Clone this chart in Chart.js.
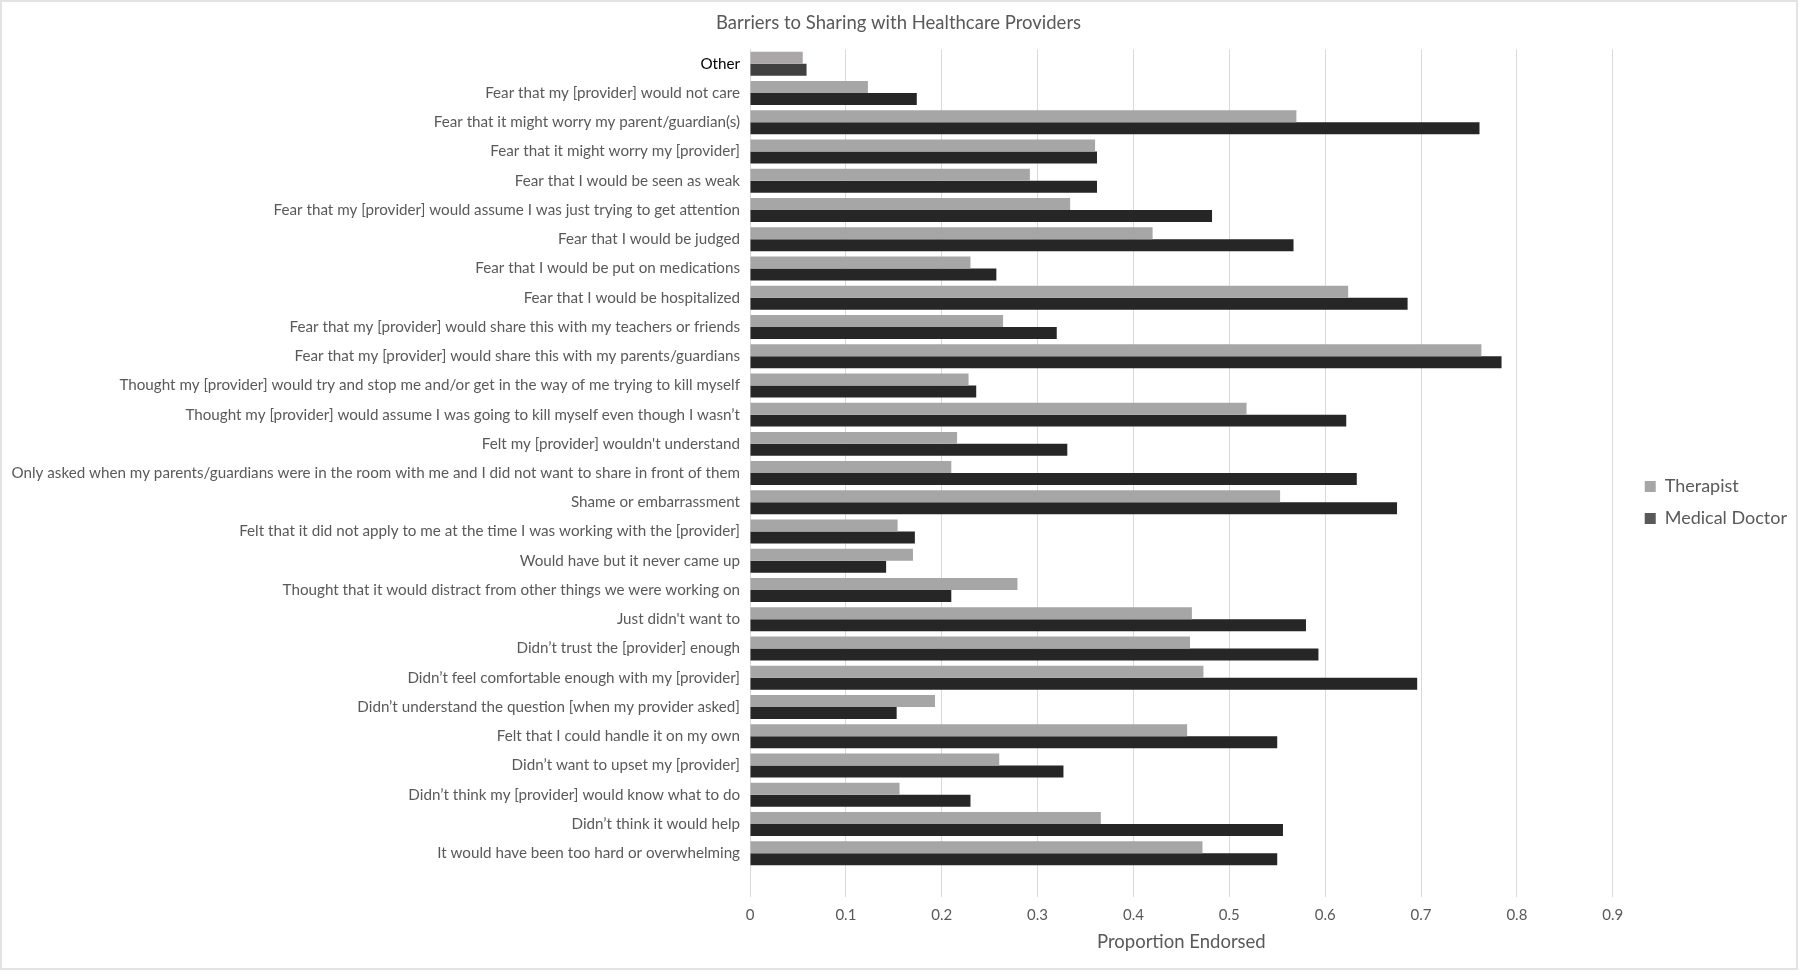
<!DOCTYPE html>
<html>
<head>
<meta charset="utf-8">
<title>Barriers to Sharing with Healthcare Providers</title>
<script src="https://cdn.jsdelivr.net/npm/chart.js@4.4.1/dist/chart.umd.min.js"></script>
<style>
    html, body { margin: 0; padding: 0; background: #fff; }
    .wrap { width: 1800px; height: 977px; position: relative; }
</style>
</head>
<body>
<div class="wrap"><canvas id="myChart"></canvas></div>
<script>
// #region data
const categories = [
    'Other',
    'Fear that my [provider] would not care',
    'Fear that it might worry my parent/guardian(s)',
    'Fear that it might worry my [provider]',
    'Fear that I would be seen as weak',
    'Fear that my [provider] would assume I was just trying to get attention',
    'Fear that I would be judged',
    'Fear that I would be put on medications',
    'Fear that I would be hospitalized',
    'Fear that my [provider] would share this with my teachers or friends',
    'Fear that my [provider] would share this with my parents/guardians',
    'Thought my [provider] would try and stop me and/or get in the way of me trying to kill myself',
    'Thought my [provider] would assume I was going to kill myself even though I wasn\u2019t',
    'Felt my [provider] wouldn\'t understand',
    'Only asked when my parents/guardians were in the room with me and I did not want to share in front of them',
    'Shame or embarrassment',
    'Felt that it did not apply to me at the time I was working with the [provider]',
    'Would have but it never came up',
    'Thought that it would distract from other things we were working on',
    'Just didn\'t want to',
    'Didn\u2019t trust the [provider] enough',
    'Didn\u2019t feel comfortable enough with my [provider]',
    'Didn\u2019t understand the question [when my provider asked]',
    'Felt that I could handle it on my own',
    'Didn\u2019t want to upset my [provider]',
    'Didn\u2019t think my [provider] would know what to do',
    'Didn\u2019t think it would help',
    'It would have been too hard or overwhelming',
    ''
];

const therapist = [
    0.055, 0.123, 0.570, 0.360, 0.292, 0.334, 0.420, 0.230, 0.624, 0.264,
    0.763, 0.228, 0.518, 0.216, 0.210, 0.553, 0.154, 0.170, 0.279, 0.461,
    0.459, 0.473, 0.193, 0.456, 0.260, 0.156, 0.366, 0.472, null
];

const medicalDoctor = [
    0.059, 0.174, 0.761, 0.362, 0.362, 0.482, 0.567, 0.257, 0.686, 0.320,
    0.784, 0.236, 0.622, 0.331, 0.633, 0.675, 0.172, 0.142, 0.210, 0.580,
    0.593, 0.696, 0.153, 0.550, 0.327, 0.230, 0.556, 0.550, null
];

const xTicks = [0, 0.1, 0.2, 0.3, 0.4, 0.5, 0.6, 0.7, 0.8, 0.9];
// #endregion data

const
    graph = document.querySelector('#myChart'),
    textGray = '#595959',
    fontFamily = 'Lato, "Open Sans", sans-serif';

function barColors(normal, first) {
    return categories.map((c, i) => (i === 0 ? first : normal));
}

// thin outer frame like the exported chart area
const framePlugin = {
    id: 'frame',
    beforeDraw(chart) {
        const c = chart.ctx;
        c.save();
        c.strokeStyle = '#e3e3e3';
        c.lineWidth = 2;
        c.strokeRect(1, 1, chart.width - 4, chart.height - 9);
        c.restore();
    }
};

function graphrender() {
    const ctx = graph.getContext('2d');

    new Chart(ctx, {
        type: 'bar',
        data: {
            labels: categories,
            datasets: [{
                label: 'Therapist',
                data: therapist,
                backgroundColor: barColors('#a6a6a6', '#aaa5a7'),
                categoryPercentage: 0.82,
                barPercentage: 1.0
            }, {
                label: 'Medical Doctor',
                data: medicalDoctor,
                backgroundColor: barColors('#262626', '#404040'),
                categoryPercentage: 0.82,
                barPercentage: 1.0
            }]
        },
        options: {
            indexAxis: 'y',
            responsive: true,
            maintainAspectRatio: false,
            devicePixelRatio: 1,
            animation: false,
            layout: {
                padding: { left: 0, right: 3, top: 0, bottom: 18 }
            },
            scales: {
                x: {
                    min: 0,
                    max: 0.9,
                    afterBuildTicks: (axis) => {
                        axis.ticks = xTicks.map(v => ({ value: v }));
                    },
                    afterFit: (axis) => { axis.height = 62; },
                    grid: { color: '#d9d9d9', drawTicks: false },
                    border: { display: false },
                    ticks: {
                        color: textGray,
                        padding: 9,
                        font: { family: fontFamily, size: 15 },
                        callback: (v) => String(v)
                    },
                    title: {
                        display: true,
                        text: 'Proportion Endorsed',
                        color: textGray,
                        font: { family: fontFamily, size: 18.5 },
                        padding: { top: 0, bottom: 6 }
                    }
                },
                y: {
                    grid: { display: false, drawTicks: false },
                    border: { display: false },
                    afterFit: (axis) => { axis.width = 750; },
                    ticks: {
                        autoSkip: false,
                        padding: 10,
                        color: (c) => (c.index === 0 ? '#000000' : textGray),
                        font: { family: fontFamily, size: 15.2 }
                    }
                },
                gap: {
                    type: 'linear',
                    position: 'right',
                    grid: { display: false, drawTicks: false },
                    border: { display: false },
                    ticks: { display: false },
                    afterFit: (axis) => { axis.width = 18; }
                }
            },
            plugins: {
                title: {
                    display: true,
                    text: 'Barriers to Sharing with Healthcare Providers',
                    color: textGray,
                    font: { family: fontFamily, size: 18.5, weight: 'normal' },
                    padding: { top: 12, bottom: 15 }
                },
                legend: {
                    position: 'right',
                    title: {
                        display: true,
                        text: ' ',
                        font: { size: 10 },
                        padding: { top: 34, bottom: 0 }
                    },
                    labels: {
                        boxWidth: 11,
                        boxHeight: 11,
                        padding: 14,
                        color: textGray,
                        font: { family: fontFamily, size: 18 },
                        generateLabels: () => [
                            { text: 'Therapist', fillStyle: '#a6a6a6', strokeStyle: '#a6a6a6', lineWidth: 0, fontColor: textGray, datasetIndex: 0 },
                            { text: 'Medical Doctor', fillStyle: '#595959', strokeStyle: '#595959', lineWidth: 0, fontColor: textGray, datasetIndex: 1 }
                        ]
                    }
                },
                tooltip: { enabled: false }
            }
        },
        plugins: [framePlugin]
    });
}

graphrender();
</script>
</body>
</html>
